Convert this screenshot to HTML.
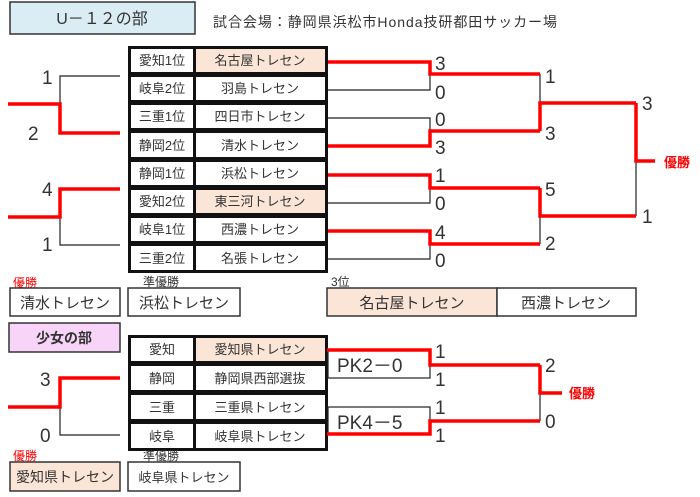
<!DOCTYPE html>
<html><head><meta charset="utf-8"><style>
html,body{margin:0;padding:0;background:#fff;}
svg{display:block;font-family:"Liberation Sans","Noto Sans CJK JP",sans-serif;}
.t{font-size:13px;fill:#333;text-anchor:middle;}
.s{font-size:19px;fill:#333;}
.r{stroke:#f00;stroke-width:3.5;fill:none;}
.b{stroke:#222;stroke-width:1.2;fill:none;}
</style></head><body>
<svg width="700" height="497" viewBox="0 0 700 497" xmlns="http://www.w3.org/2000/svg">
<!-- U-12 header -->
<rect x="10" y="2" width="185" height="32" fill="#daedf4" stroke="#333" stroke-width="1.5"/>
<text x="102" y="24" class="t" style="font-size:16px">U－１２の部</text>
<text x="213" y="27" style="font-size:14px;fill:#333" textLength="344">試合会場：静岡県浜松市Honda技研都田サッカー場</text>

<!-- U-12 table -->
<rect x="128" y="46" width="200" height="227" fill="#111"/>
<g fill="#fff">
<rect x="131" y="49" width="62" height="23"/><rect x="196" y="49" width="129" height="23" fill="#fbe5d6"/>
<rect x="131" y="77" width="62" height="23"/><rect x="196" y="77" width="129" height="23"/>
<rect x="131" y="105" width="62" height="23"/><rect x="196" y="105" width="129" height="23"/>
<rect x="131" y="133" width="62" height="24"/><rect x="196" y="133" width="129" height="24"/>
<rect x="131" y="162" width="62" height="23"/><rect x="196" y="162" width="129" height="23"/>
<rect x="131" y="190" width="62" height="23"/><rect x="196" y="190" width="129" height="23" fill="#fbe5d6"/>
<rect x="131" y="218" width="62" height="23"/><rect x="196" y="218" width="129" height="23"/>
<rect x="131" y="246" width="62" height="24"/><rect x="196" y="246" width="129" height="24"/>
</g>
<g class="t">
<text x="162" y="65">愛知1位</text><text x="260" y="65">名古屋トレセン</text>
<text x="162" y="93">岐阜2位</text><text x="260" y="93">羽島トレセン</text>
<text x="162" y="121">三重1位</text><text x="260" y="121">四日市トレセン</text>
<text x="162" y="150">静岡2位</text><text x="260" y="150">清水トレセン</text>
<text x="162" y="178">静岡1位</text><text x="260" y="178">浜松トレセン</text>
<text x="162" y="206">愛知2位</text><text x="260" y="206">東三河トレセン</text>
<text x="162" y="234">岐阜1位</text><text x="260" y="234">西濃トレセン</text>
<text x="162" y="263">三重2位</text><text x="260" y="263">名張トレセン</text>
</g>

<!-- U-12 left bracket -->
<path class="b" d="M120 76H60V104 M120 245H60V217"/>
<path class="r" d="M8 104H60V133H120 M8 217H60V189H120"/>
<text x="42" y="84" class="s">1</text><text x="28" y="140" class="s">2</text>
<text x="42" y="196" class="s">4</text><text x="42" y="251" class="s">1</text>

<!-- U-12 right bracket -->
<path class="b" d="M328 90H430V74 M328 118H430V131 M328 203H430V188 M328 259H430V244 M540 74V103 M540 216V244 M636 161V216"/>
<path class="r" d="M328 62H430V74H540 M328 146H430V131H540 M328 175H430V188H540 M328 231H430V244H540 M540 131V103H636 M540 188V216H636 M636 103V161H655"/>
<g class="s">
<text x="435" y="70">3</text><text x="435" y="99">0</text>
<text x="435" y="126">0</text><text x="435" y="154">3</text>
<text x="435" y="182">1</text><text x="435" y="210">0</text>
<text x="435" y="239">4</text><text x="435" y="267">0</text>
<text x="545" y="83">1</text><text x="545" y="140">3</text>
<text x="545" y="196">5</text><text x="545" y="250">2</text>
<text x="642" y="110">3</text><text x="642" y="223">1</text>
</g>
<text x="664" y="167" style="font-size:13px;fill:#f00;font-weight:bold">優勝</text>

<!-- U-12 results -->
<text x="13" y="287" style="font-size:12px;fill:#f00">優勝</text>
<rect x="10" y="288" width="110" height="28" fill="#fff" stroke="#333" stroke-width="1.5"/>
<text x="65" y="308" class="t" style="font-size:15px">清水トレセン</text>
<text x="143" y="286" style="font-size:12px;fill:#333">準優勝</text>
<rect x="128" y="288" width="112" height="28" fill="#fff" stroke="#333" stroke-width="1.5"/>
<text x="184" y="308" class="t" style="font-size:15px">浜松トレセン</text>
<text x="331" y="286" style="font-size:12px;fill:#333">3位</text>
<rect x="327" y="288" width="170" height="28" fill="#fbe5d6" stroke="#333" stroke-width="1.5"/>
<rect x="497" y="288" width="139" height="28" fill="#fff" stroke="#333" stroke-width="1.5"/>
<text x="412" y="308" class="t" style="font-size:15px">名古屋トレセン</text>
<text x="566" y="308" class="t" style="font-size:15px">西濃トレセン</text>

<!-- Girls header -->
<rect x="9" y="323" width="111" height="29" fill="#f9d4f9" stroke="#333" stroke-width="1.5"/>
<text x="64" y="343" class="t" style="font-size:14px;font-weight:bold">少女の部</text>

<!-- Girls table -->
<rect x="128" y="335" width="200" height="116" fill="#111"/>
<g fill="#fff">
<rect x="131" y="338" width="62" height="23"/><rect x="196" y="338" width="129" height="23" fill="#fbe5d6"/>
<rect x="131" y="366" width="62" height="24"/><rect x="196" y="366" width="129" height="24"/>
<rect x="131" y="395" width="62" height="24"/><rect x="196" y="395" width="129" height="24"/>
<rect x="131" y="424" width="62" height="24"/><rect x="196" y="424" width="129" height="24"/>
</g>
<g class="t">
<text x="162" y="354">愛知</text><text x="260" y="354">愛知県トレセン</text>
<text x="162" y="383">静岡</text><text x="260" y="383">静岡県西部選抜</text>
<text x="162" y="412">三重</text><text x="260" y="412">三重県トレセン</text>
<text x="162" y="441">岐阜</text><text x="260" y="441">岐阜県トレセン</text>
</g>

<!-- Girls left bracket -->
<path class="b" d="M120 435H60V407"/>
<path class="r" d="M8 407H60V378H120"/>
<text x="40" y="386" class="s">3</text><text x="40" y="442" class="s">0</text>

<!-- Girls right bracket -->
<rect x="328" y="350" width="102" height="28" fill="none" stroke="#222" stroke-width="1.2"/>
<rect x="328" y="407" width="102" height="27" fill="none" stroke="#222" stroke-width="1.2"/>
<path class="b" d="M540 393V421"/>
<path class="r" d="M327 350H430V365H540 M327 434H430V421H540 M540 365V393H562"/>
<text x="337" y="372" class="s">PK2－0</text>
<text x="337" y="429" class="s">PK4－5</text>
<g class="s">
<text x="435" y="358">1</text><text x="435" y="386">1</text>
<text x="435" y="414">1</text><text x="435" y="442">1</text>
<text x="545" y="372">2</text><text x="545" y="428">0</text>
</g>
<text x="569" y="398" style="font-size:13px;fill:#f00;font-weight:bold">優勝</text>

<!-- Girls results -->
<text x="13" y="460" style="font-size:12px;fill:#f00">優勝</text>
<rect x="10" y="462" width="110" height="29" fill="#fbe5d6" stroke="#333" stroke-width="1.5"/>
<text x="65" y="482" class="t" style="font-size:14px">愛知県トレセン</text>
<text x="143" y="460" style="font-size:12px;fill:#333">準優勝</text>
<rect x="128" y="462" width="112" height="29" fill="#fff" stroke="#333" stroke-width="1.5"/>
<text x="184" y="482" class="t">岐阜県トレセン</text>
</svg>
</body></html>
